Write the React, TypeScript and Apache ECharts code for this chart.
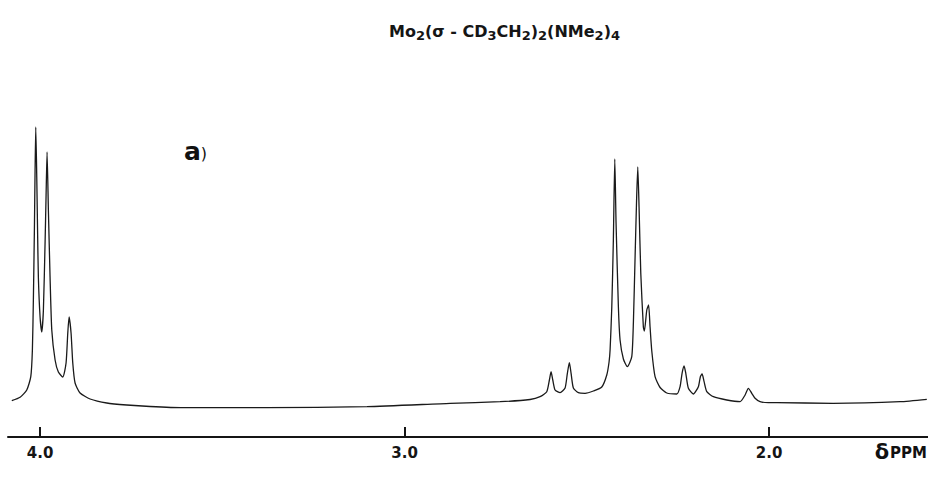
import React, { useEffect, useRef } from "react";
import * as echarts from "echarts";

// Chemical shift (ppm) of points
const ppmValues = [
  4.0776, 4.0549, 4.0365, 4.0255, 4.0211, 4.0184, 4.0156, 4.0137, 4.0118, 4.0091,
  4.0069, 4.0047, 4.0, 3.9953, 3.9909, 3.9863, 3.9835, 3.9808, 3.9772, 3.9726,
  3.9679, 3.9588, 3.9498, 3.9377, 3.9287, 3.924, 3.9204, 3.915, 3.9103, 3.904,
  3.8903, 3.8628, 3.817, 3.7621, 3.6982, 3.6077, 3.3772, 3.1029, 2.8752, 2.738,
  2.6557, 2.6283, 2.6099, 2.6027, 2.5981, 2.5934, 2.5871, 2.5734, 2.5597, 2.5534,
  2.5479, 2.5432, 2.5369, 2.5232, 2.5048, 2.482, 2.459, 2.4453, 2.439, 2.4362,
  2.4315, 2.4272, 2.4233, 2.4198, 2.4134, 2.4088, 2.3997, 2.3888, 2.3767, 2.3723,
  2.3676, 2.3635, 2.3602, 2.3567, 2.352, 2.3449, 2.3421, 2.3355, 2.3306, 2.3265,
  2.3218, 2.3128, 2.299, 2.2807, 2.2532, 2.2442, 2.2387, 2.2332, 2.2285, 2.2214,
  2.2077, 2.194, 2.1885, 2.1838, 2.1783, 2.1709, 2.1528, 2.116, 2.0796, 2.0658,
  2.0568, 2.0475, 2.0384, 2.0247, 2.0019, 1.9789, 1.8244, 1.6406, 1.5673,
];

// Signal intensity (arbitrary units) at those points
const intensityValues = [
  5.3, 8.7, 16, 29.3, 56, 106, 176, 236, 279, 229,
  176, 129, 89, 74, 96, 163, 211, 254, 196, 129,
  76, 46, 34, 29, 43, 73, 89, 73, 43, 23,
  13, 7, 3, 1, -0.5, -1.7, -1.7, -0.7, 2.7, 4.3,
  6.5, 9.3, 14.3, 26, 34.3, 26, 16, 13.3, 18, 32.7,
  43.3, 32.7, 18, 13.3, 12.7, 15, 19, 31, 44, 56,
  99, 166, 247, 183, 99, 66, 47, 39.3, 49.3, 83,
  149, 206, 239, 199, 133, 79, 75, 96, 101, 79,
  55, 29.3, 18.5, 13, 12, 19.3, 32.7, 40, 32.7, 17.7,
  12, 19.3, 29.3, 32, 24.3, 14.3, 9.3, 6, 4.3, 11,
  17.7, 12.7, 7.7, 4.3, 3.3, 3.3, 2.7, 4.3, 6.7,
];

const tickValues = [2, 3, 4];
const xMin = 1.564;
const xMax = 4.088;
const yMin = -31;
const yMax = 346;

export default function App() {
  const ref = useRef<HTMLDivElement>(null);

  useEffect(() => {
    document.body.style.margin = "0";
    if (!ref.current) return;
    const chart = echarts.init(ref.current, undefined, { renderer: "svg" });
    const data = ppmValues.map((p, i) => [p, intensityValues[i]]);
    const font = "DejaVu Sans";
    chart.setOption({
      animation: false,
      backgroundColor: "#ffffff",
      grid: { left: 8, right: 0, top: 60, bottom: 56, outerBoundsMode: "none" },
      xAxis: {
        type: "value",
        inverse: true,
        min: xMin,
        max: xMax,
        axisLine: { onZero: false, lineStyle: { color: "#151515", width: 2 } },
        axisTick: {
          show: true,
          inside: true,
          length: 9,
          customValues: tickValues,
          lineStyle: { color: "#151515", width: 2 },
        },
        axisLabel: {
          customValues: tickValues,
          formatter: (v: number) => v.toFixed(1),
          fontFamily: font,
          fontWeight: "bold",
          fontSize: 15,
          color: "#151515",
          margin: 8,
        },
        splitLine: { show: false },
      },
      yAxis: { type: "value", min: yMin, max: yMax, show: false },
      series: [
        {
          type: "line",
          data,
          showSymbol: false,
          smooth: 0.2,
          lineStyle: { color: "#1a1a1a", width: 1.3 },
          markLine: {
            silent: true,
            symbol: "none",
            label: { show: false },
            lineStyle: { color: "#151515", width: 2, type: "solid" },
            data: tickValues.map((v) => [
              { coord: [v, yMin + 1] },
              { coord: [v, yMin + 10] },
            ]),
          },
        },
      ],
      graphic: [
        {
          type: "text",
          id: "title",
          left: 389,
          top: 19,
          style: {
            text:
              "{n|Mo}{s|2}{n|(σ - CD}{s|3}{n|CH}{s|2}{n|)}{s|2}{n|(NMe}{s|2}{n|)}{s|4}",
            rich: {
              n: { fontFamily: font, fontWeight: "bold", fontSize: 16, lineHeight: 22, fill: "#151515" },
              s: { fontFamily: font, fontWeight: "bold", fontSize: 13, lineHeight: 13, padding: [10, 0, 0, 0], verticalAlign: "bottom", fill: "#151515" },
            },
          },
          silent: true,
        },
        {
          type: "text",
          id: "panel",
          left: 184,
          top: 139,
          style: {
            text: "{a|a}{p|)}",
            rich: {
              a: { fontFamily: font, fontWeight: "bold", fontSize: 25, fill: "#111" },
              p: { fontFamily: font, fontSize: 16, fill: "#111", padding: [3, 0, 0, 0] },
            },
          },
          silent: true,
        },
        {
          type: "text",
          id: "unit",
          right: 1,
          top: 441,
          style: {
            text: "{d|δ}{p|PPM}",
            rich: {
              d: { fontFamily: font, fontWeight: "bold", fontSize: 21, fill: "#111" },
              p: { fontFamily: font, fontWeight: "bold", fontSize: 15, fill: "#111", padding: [3, 0, 0, 1] },
            },
          },
          silent: true,
        },
      ],
    });

    return () => chart.dispose();
  }, []);

  return <div ref={ref} style={{ width: 928, height: 493 }} />;
}
